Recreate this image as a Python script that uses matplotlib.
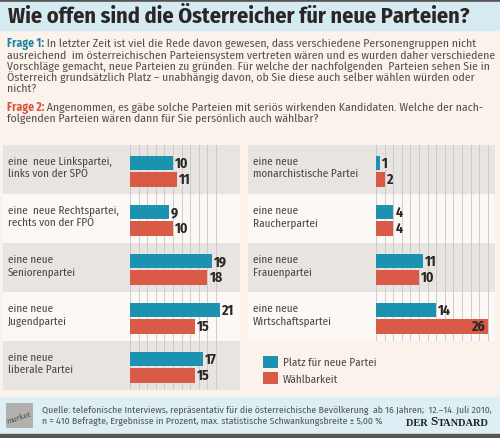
import matplotlib.pyplot as plt
import matplotlib
from matplotlib.patches import Rectangle

matplotlib.rcParams['font.family'] = ['Fira Sans Condensed', 'DejaVu Sans']

# Daten
labels_left = ["eine  neue Linkspartei,\nlinks von der SPÖ", "eine  neue Rechtspartei,\nrechts von der FPÖ",
               "eine neue\nSeniorenpartei", "eine neue\nJugendpartei", "eine neue\nliberale Partei"]
platz_left = [10, 9, 19, 21, 17]
wahl_left = [11, 10, 18, 15, 15]

labels_right = ["eine neue\nmonarchistische Partei", "eine neue\nRaucherpartei",
                "eine neue\nFrauenpartei", "eine neue\nWirtschaftspartei"]
platz_right = [1, 4, 11, 14]
wahl_right = [2, 4, 10, 26]

series_names = ["Platz für neue Partei", "Wählbarkeit"]

BLUE = '#1b92b0'
RED = '#d95a46'
W, H = 500, 439
ROW_TOP = 146
ROW_H = 49
PX_PER_UNIT = 4.3

fig = plt.figure(figsize=(W / 100, H / 100), dpi=100)
fig.patch.set_facecolor('#fcf2ec')

# Hintergrund-Achse in Pixelkoordinaten
bg = fig.add_axes([0, 0, 1, 1], zorder=0)
bg.set_xlim(0, W)
bg.set_ylim(H, 0)
bg.axis('off')

bg.add_patch(Rectangle((0, 0), W, 2.5, color='#555555'))
bg.add_patch(Rectangle((0, 2.5), W, 28, color='#d6eaf1'))
bg.add_patch(Rectangle((0, 398), W, 37, color='#ddeef4'))
bg.add_patch(Rectangle((0, 435), W, 4, color='#555555'))

bg.text(8, 17, "Wie offen sind die Österreicher für neue Parteien?", fontsize=16,
        fontweight='bold', color='#2a2623', va='center')

# Fragen
txt = '#544e4a'
fs_q = 8.4
f1 = ["In letzter Zeit ist viel die Rede davon gewesen, dass verschiedene Personengruppen nicht",
      "ausreichend  im österreichischen Parteiensystem vertreten wären und es wurden daher verschiedene",
      "Vorschläge gemacht, neue Parteien zu gründen. Für welche der nachfolgenden  Parteien sehen Sie in",
      "Österreich grundsätzlich Platz – unabhängig davon, ob Sie diese auch selber wählen würden oder",
      "nicht?"]
t = bg.text(7, 44, "Frage 1:", fontsize=fs_q, fontweight='bold', color='#1a86a3', va='center')
bg.annotate(" " + f1[0], xy=(1, 0.5), xycoords=t, va='center', fontsize=fs_q, color=txt)
for i, line in enumerate(f1[1:]):
    bg.text(7, 55.5 + i * 11, line, fontsize=fs_q, color=txt, va='center')

t = bg.text(7, 108, "Frage 2:", fontsize=fs_q, fontweight='bold', color='#d4553f', va='center')
bg.annotate(" Angenommen, es gäbe solche Parteien mit seriös wirkenden Kandidaten. Welche der nach-",
            xy=(1, 0.5), xycoords=t, va='center', fontsize=fs_q, color=txt)
bg.text(7, 119, "folgenden Parteien wären dann für Sie persönlich auch wählbar?", fontsize=fs_q,
        color=txt, va='center')


def panel(x0, x1, bar_x, labels, platz, wahl, grid_max):
    n = len(labels)
    # Zeilenhintergrund
    for i in range(n):
        c = '#e7e4e2' if i % 2 == 0 else '#fbf8f5'
        bg.add_patch(Rectangle((x0, ROW_TOP + i * ROW_H), x1 - x0, ROW_H, color=c, lw=0))
        bg.text(x0 + 5, ROW_TOP + i * ROW_H + 22, labels[i], fontsize=8, color='#4a4542',
                va='center', linespacing=1.2)

    ax = fig.add_axes([bar_x / W, 1 - (ROW_TOP + n * ROW_H) / H,
                       (x1 - bar_x) / W, n * ROW_H / H], zorder=1)
    ax.set_facecolor('none')
    ax.set_xlim(0, (x1 - bar_x) / PX_PER_UNIT)
    ax.set_ylim(n, 0)
    for g in range(0, grid_max + 1, 2):
        ax.axvline(g, color='#c8c6c4', lw=0.6, zorder=0)
    ys = [i for i in range(n)]
    b1 = ax.barh([y + 0.37 for y in ys], platz, height=0.3, color=BLUE, zorder=2)
    b2 = ax.barh([y + 0.70 for y in ys], wahl, height=0.3, color=RED, zorder=2)
    for y, v in zip(ys, platz):
        ax.text(v + 0.5, y + 0.37, str(v), va='center', fontsize=10, fontweight='bold', color='#2a2623')
    for y, v in zip(ys, wahl):
        if v > 24:
            ax.text(v - 0.5, y + 0.70, str(v), va='center', ha='right', fontsize=10,
                    fontweight='bold', color='#2a2623', zorder=3)
        else:
            ax.text(v + 0.5, y + 0.70, str(v), va='center', fontsize=10, fontweight='bold', color='#2a2623')
    ax.axis('off')
    return b1, b2


panel(3, 240, 130, labels_left, platz_left, wahl_left, 20)
b1, b2 = panel(248, 495, 376, labels_right, platz_right, wahl_right, 26)

fig.legend([b1, b2], series_names, loc='upper left', bbox_to_anchor=(257 / W, 1 - 351 / H),
           frameon=False, fontsize=8, handlelength=1.35, handleheight=1.35,
           labelspacing=0.35, borderpad=0, handletextpad=0.5, labelcolor='#4a4542')

# Fusszeile
bg.add_patch(Rectangle((6, 404), 27, 25, color='#b3b1b0', lw=0))
bg.text(19, 418, "market", fontsize=5, style='italic', color='#444444', rotation=18,
        ha='center', va='center', family='DejaVu Serif')
bg.text(42, 410, "Quelle: telefonische Interviews, repräsentativ für die österreichische Bevölkerung  ab 16 Jahren;  12.–14. Juli 2010,",
        fontsize=7.0, color='#555555', va='center')
bg.text(42, 421, "n = 410 Befragte, Ergebnisse in Prozent, max. statistische Schwankungsbreite ± 5,00 %",
        fontsize=7.0, color='#555555', va='center')
t = bg.text(406, 426, "DER ", fontsize=7.5, fontweight='bold', color='#222222', family='Liberation Serif',
            va='baseline')
t = bg.annotate("S", xy=(1, 0), xycoords=t, fontsize=9.5, fontweight='bold', color='#222222',
                family='Liberation Serif', va='bottom')
bg.annotate("TANDARD", xy=(1, 0), xycoords=t, fontsize=7.5, fontweight='bold', color='#222222',
            family='Liberation Serif', va='bottom')

plt.savefig('out.png', dpi=100)
